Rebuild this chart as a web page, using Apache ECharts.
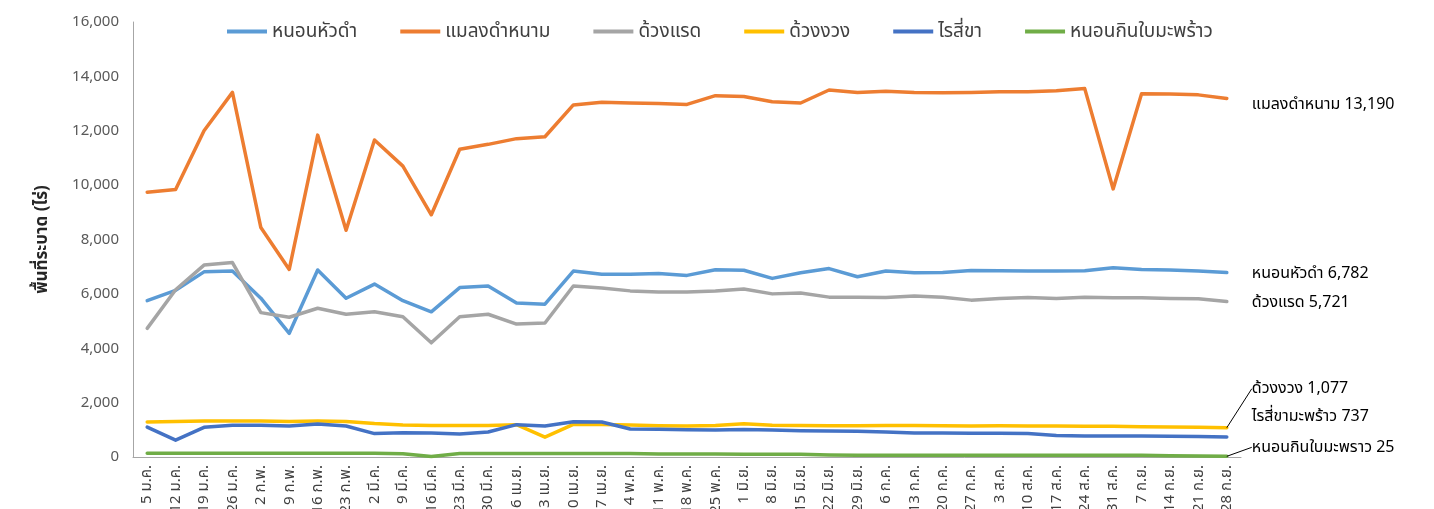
<!DOCTYPE html>
<html>

<head>
  <meta charset="utf-8">
  <title>พื้นที่ระบาดศัตรูมะพร้าว</title>
  <script src="https://cdn.jsdelivr.net/npm/echarts@6/dist/echarts.min.js" charset="utf-8"></script>
  <style media="screen">
    html, body { margin: 0; padding: 0; background: #fff; overflow: hidden; }
  </style>
</head>

<body>
  <div id="main" style="width:1434px;height:509px;"></div>

  <script type="text/javascript">
    // weekly dates
    var weeks = ['5 ม.ค.', '12 ม.ค.', '19 ม.ค.', '26 ม.ค.', '2 ก.พ.', '9 ก.พ.', '16 ก.พ.', '23 ก.พ.',
      '2 มี.ค.', '9 มี.ค.', '16 มี.ค.', '23 มี.ค.', '30 มี.ค.', '6 เม.ย.', '13 เม.ย.', '20 เม.ย.', '27 เม.ย.',
      '4 พ.ค.', '11 พ.ค.', '18 พ.ค.', '25 พ.ค.', '1 มิ.ย.', '8 มิ.ย.', '15 มิ.ย.', '22 มิ.ย.', '29 มิ.ย.',
      '6 ก.ค.', '13 ก.ค.', '20 ก.ค.', '27 ก.ค.', '3 ส.ค.', '10 ส.ค.', '17 ส.ค.', '24 ส.ค.', '31 ส.ค.',
      '7 ก.ย.', '14 ก.ย.', '21 ก.ย.', '28 ก.ย.'];

    var names = ['หนอนหัวดำ', 'แมลงดำหนาม', 'ด้วงแรด', 'ด้วงงวง', 'ไรสี่ขา', 'หนอนกินใบมะพร้าว'];
    var endNames = ['หนอนหัวดำ', 'แมลงดำหนาม', 'ด้วงแรด', 'ด้วงงวง', 'ไรสี่ขามะพร้าว', 'หนอนกินใบมะพราว'];
    var colors = ['#5B9BD5', '#ED7D31', '#A5A5A5', '#FFC000', '#4472C4', '#70AD47'];

    var blackHead = [5750, 6130, 6810, 6840, 5840, 4550, 6880, 5840, 6360, 5750, 5340, 6230, 6290, 5660, 5620,
      6840, 6720, 6720, 6750, 6680, 6890, 6870, 6570, 6780, 6930, 6630, 6840, 6780, 6790, 6860, 6850, 6840,
      6840, 6850, 6960, 6900, 6880, 6840, 6782];
    var hispa = [9740, 9840, 12000, 13410, 8440, 6900, 11840, 8340, 11660, 10700, 8910, 11320, 11500, 11710, 11780,
      12950, 13050, 13020, 13000, 12970, 13290, 13260, 13070, 13020, 13500, 13410, 13450, 13410, 13400, 13410,
      13430, 13430, 13470, 13550, 9860, 13360, 13350, 13320, 13190];
    var rhino = [4730, 6150, 7060, 7150, 5310, 5140, 5470, 5250, 5345, 5160, 4200, 5160, 5250, 4890, 4930,
      6290, 6220, 6110, 6070, 6070, 6110, 6180, 6000, 6030, 5880, 5880, 5870, 5920, 5880, 5770, 5830, 5870,
      5830, 5880, 5860, 5860, 5830, 5820, 5721];
    var weevil = [1290, 1310, 1320, 1320, 1320, 1310, 1320, 1310, 1230, 1180, 1160, 1160, 1160, 1190, 730,
      1200, 1200, 1180, 1150, 1140, 1160, 1220, 1170, 1160, 1150, 1150, 1160, 1160, 1150, 1140, 1150, 1140,
      1140, 1130, 1130, 1110, 1100, 1090, 1077];
    var mite = [1100, 620, 1090, 1170, 1170, 1140, 1210, 1140, 860, 890, 880, 850, 920, 1190, 1140,
      1300, 1290, 1030, 1020, 1000, 990, 1010, 990, 970, 960, 950, 920, 880, 880, 870, 870, 860,
      790, 770, 770, 770, 760, 750, 737];
    var leafEater = [140, 140, 140, 140, 140, 140, 140, 140, 140, 120, 20, 130, 130, 130, 130,
      130, 130, 130, 110, 110, 110, 100, 100, 100, 70, 60, 60, 60, 60, 60, 60, 60,
      60, 60, 60, 60, 50, 40, 25];

    var allData = [blackHead, hispa, rhino, weevil, mite, leafEater];
    // label shift for the end labels (dy), guide line or not
    var endShift = [1, 6, 1, -39, -21, -9];
    var endGuide = [false, false, false, true, false, true];

    var font = "'Noto Sans', 'Noto Sans Thai', 'DejaVu Sans', sans-serif";

    var myChart = echarts.init(document.getElementById('main'));

    var series = allData.map(function(arr, k) {
      var data = arr.map(function(v, i) {
        if (i === arr.length - 1) {
          return {
            value: v,
            label: {
              show: true,
              position: 'right',
              distance: 25,
              formatter: function(p) {
                return endNames[k] + ' ' + p.value.toLocaleString('en-US');
              }
            }
          };
        }
        return v;
      });
      return {
        name: names[k],
        type: 'line',
        data: data,
        showSymbol: true,
        symbol: 'circle',
        symbolSize: 0,
        animation: false,
        z: 2 + k,
        lineStyle: { width: 3.5, color: colors[k], cap: 'round', join: 'round' },
        itemStyle: { color: colors[k] },
        label: {
          show: false,
          color: '#000',
          fontSize: 16,
          fontFamily: font
        },
        labelLayout: { dy: endShift[k] },
        labelLine: {
          show: endGuide[k],
          lineStyle: { color: '#000', width: 1 }
        }
      };
    });

    var option = {
      backgroundColor: '#fff',
      textStyle: { fontFamily: font },
      legend: {
        top: 17,
        left: 222,
        icon: 'rect',
        itemWidth: 40,
        itemHeight: 4,
        itemGap: 43,
        textStyle: { color: '#404040', fontSize: 19, fontFamily: font },
        data: names
      },
      grid: {
        left: 133,
        right: 193,
        top: 22,
        bottom: 52,
        containLabel: false,
        outerBoundsMode: 'none'
      },
      xAxis: {
        type: 'category',
        data: weeks,
        boundaryGap: true,
        axisLine: { lineStyle: { color: '#A6A6A6', width: 1 } },
        axisTick: { show: false },
        axisLabel: {
          rotate: 90,
          interval: 0,
          color: '#404040',
          fontSize: 15,
          margin: 8,
          fontFamily: font
        }
      },
      yAxis: {
        type: 'value',
        min: 0,
        max: 16000,
        interval: 2000,
        name: 'พื้นที่ระบาด (ไร่)',
        nameLocation: 'middle',
        nameRotate: 90,
        nameGap: 82,
        nameTextStyle: { color: '#262626', fontSize: 17, fontWeight: 'bold', fontFamily: font },
        axisLine: { show: true, lineStyle: { color: '#A6A6A6', width: 1 } },
        axisTick: { show: false },
        splitLine: { show: false },
        axisLabel: {
          color: '#595959',
          fontSize: 15,
          margin: 14,
          fontFamily: font,
          formatter: function(v) { return v.toLocaleString('en-US'); }
        }
      },
      series: series
    };
    myChart.setOption(option);
  </script>
</body>

</html>
